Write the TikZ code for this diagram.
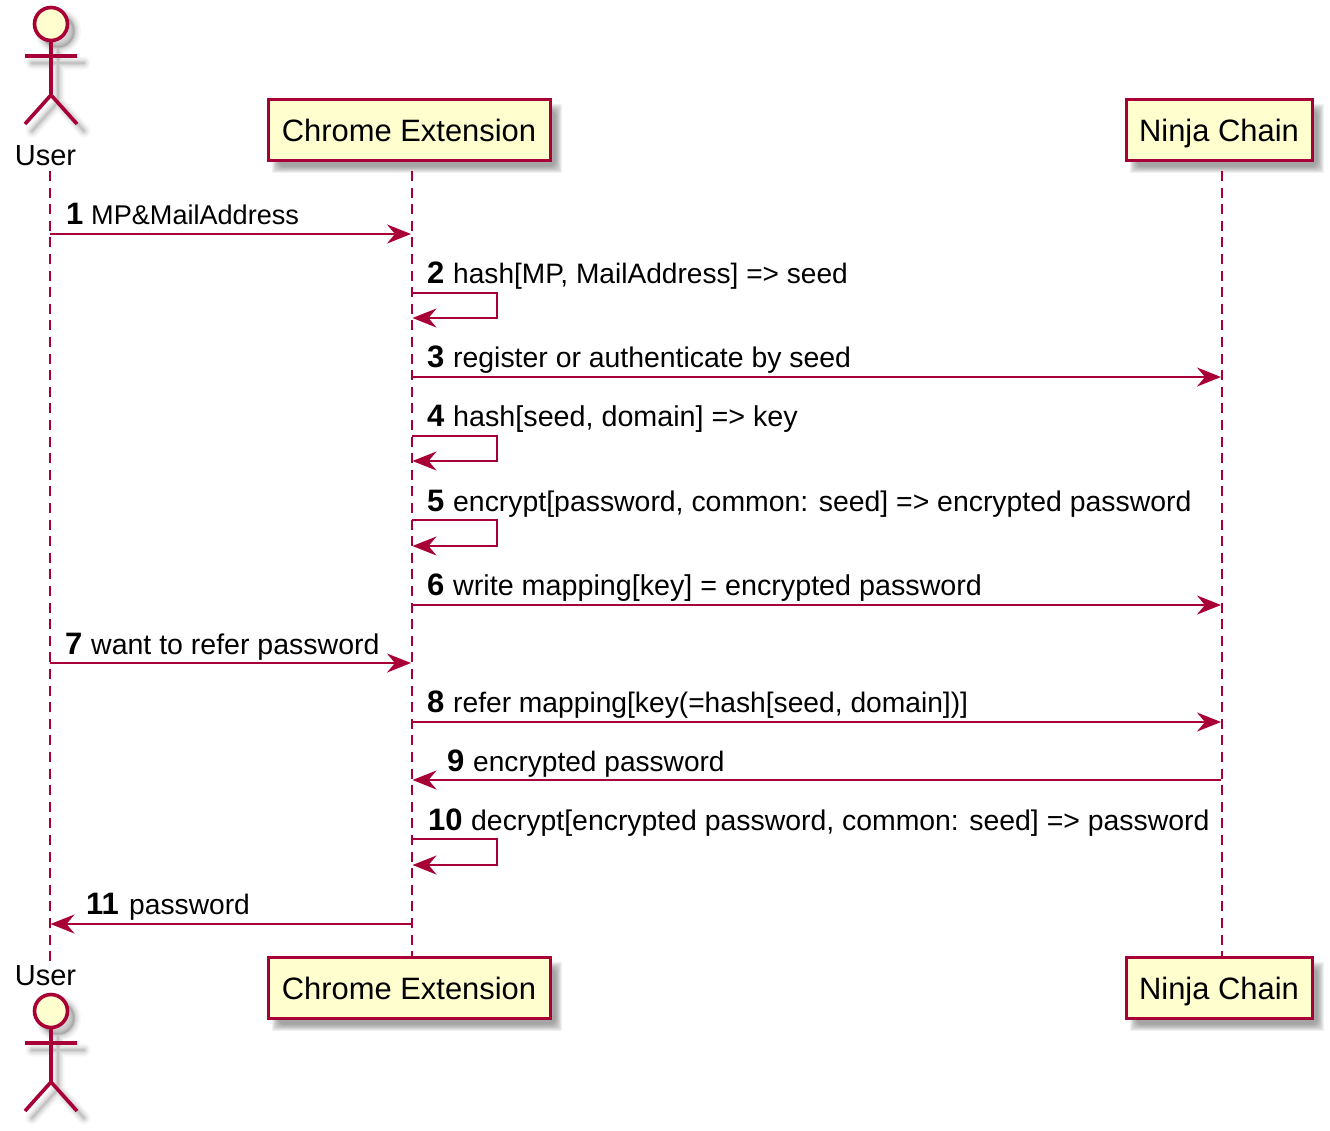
\documentclass[tikz,border=0pt]{standalone}
\usepackage{fontspec}
\setmainfont{Liberation Sans}
\usetikzlibrary{arrows.meta}
\definecolor{pu}{HTML}{A80036}
\definecolor{pf}{HTML}{FEFECE}
\newcommand{\boxfont}{\fontsize{30.9}{34}\selectfont}
\newcommand{\userfont}{\fontsize{29}{32}\selectfont}
\newcommand{\numfont}{\fontsize{31}{34}\selectfont\bfseries}
\newcommand{\softrect}[4]{%
  \foreach \k in {0,1,...,7}{
    \fill[black,opacity=0.05,rounded corners=\k pt]
      ({#1+8-4+\k*0.9},{#2+8-4+\k*0.9}) rectangle ({#3+8+4-\k*0.9},{#4+8+4-\k*0.9});
  }}
\newcommand{\softactor}[1]{%
  \begin{scope}[yshift={-(#1)*1pt}]
  \foreach \w/\o in {13/0.03,10/0.04,7/0.05,4/0.06,2/0.07}{
    \draw[black,opacity=\o,line width=\w pt,line cap=round,line join=round]
      (58,31) circle (16.5) (58,48) -- (58,102) (32,63) -- (84,63)
      (32,131) -- (58,102) -- (84,131);
    \fill[black,opacity=0.6*\o] (58,31) circle (16.5);
  }
  \end{scope}}
\newcommand{\actorfig}[1]{%
  \begin{scope}[yshift={-(#1)*1pt},draw=pu,line width=3.6pt]
    \draw[fill=pf] (51,24) circle (16.5);
    \draw (51,41) -- (51,95) (25,56) -- (77,56) (25,124) -- (51,95) -- (77,124);
  \end{scope}}
\tikzset{
  x=1pt,y=-1pt,
  part/.style={draw=pu,fill=pf,line width=3pt,minimum height=61pt,inner sep=0pt,text=black,font=\boxfont,text height=22pt,text depth=0pt},
  lifeline/.style={draw=pu,line width=2pt,dash pattern=on 10pt off 6.6pt},
  msgline/.style={draw=pu,line width=2pt,-{Stealth[length=24pt,width=19pt,inset=8pt,fill=pu]}},
  lbl/.style={anchor=base west,inner sep=0pt,text=black},
  num/.style={anchor=base west,inner sep=0pt,text=black,font=\numfont},
}
\newcommand{\msgpair}[4]{%
  \coordinate (#1a) at (#3,#2);\coordinate (#1b) at (#4,#2);
  \draw[msgline] (#1a) -- (#1b);}
\newcommand{\selfmsg}[3]{%
  \coordinate (#1a) at (412,#2);\coordinate (#1c) at (497,#2);
  \coordinate (#1d) at (497,#3);\coordinate (#1b) at (412.5,#3);
  \draw[msgline] (#1a) -- (#1c) -- (#1d) -- (#1b);}
\newcommand{\msgtext}[7]{% name nx tx baseline size num text
  \node[num] (#1n) at (#2,#4) {#6};
  \node[lbl,font=\fontsize{#5}{30}\selectfont] (#1t) at (#3,#4) {#7};}
\begin{document}
\begin{tikzpicture}
\useasboundingbox (0,0) rectangle (1330,1130);
\fill[white] (0,0) rectangle (1330,1130);
% shadows
\softrect{268}{100}{550}{161}
\softrect{1126}{100}{1312}{161}
\softrect{268}{958}{550}{1019}
\softrect{1126}{958}{1312}{1019}
\softactor{0}
\softactor{987}
% lifelines
\coordinate (uT) at (50,171);\coordinate (uB) at (50,962);
\coordinate (cT) at (411.5,171);\coordinate (cB) at (411.5,958);
\coordinate (nT) at (1221.5,171);\coordinate (nB) at (1221.5,958);
\draw[lifeline] (uT) -- (uB);
\draw[lifeline] (cT) -- (cB);
\draw[lifeline] (nT) -- (nB);
% participants
\node[part,minimum width=282pt] (ceTop) at (409,130) {Chrome Extension};
\node[part,minimum width=186pt] (ncTop) at (1219,130) {Ninja Chain};
\node[part,minimum width=282pt] (ceBot) at (409,988) {Chrome Extension};
\node[part,minimum width=186pt] (ncBot) at (1219,988) {Ninja Chain};
% actors
\actorfig{0}
\actorfig{987}
\node[anchor=base,inner sep=0pt,font=\userfont] (uTop) at (45.5,165) {User};
\node[anchor=base,inner sep=0pt,font=\userfont] (uBot) at (45.5,985) {User};
% messages
\msgpair{m1}{234}{50}{411}
\selfmsg{m2}{293}{318}
\msgpair{m3}{377}{412}{1221}
\selfmsg{m4}{436}{461}
\selfmsg{m5}{520}{546}
\msgpair{m6}{605}{412}{1221}
\msgpair{m7}{663}{50}{411}
\msgpair{m8}{722}{412}{1221}
\msgpair{m9}{780}{1221}{412.5}
\selfmsg{m10}{839}{865}
\msgpair{m11}{924}{411}{50.5}
\msgtext{l1}{66}{91}{224}{27.1}{1}{MP\&MailAddress}
\msgtext{l2}{427}{453}{283}{28.1}{2}{hash[MP, MailAddress] => seed}
\msgtext{l3}{427}{453}{367}{28.4}{3}{register or authenticate by seed}
\msgtext{l4}{427}{453}{426}{28.7}{4}{hash[seed, domain] => key}
\msgtext{l5}{427}{453}{511}{28.4}{5}{encrypt[password, common: seed] => encrypted password}
\msgtext{l6}{427}{453}{595}{28.7}{6}{write mapping[key] = encrypted password}
\msgtext{l7}{65}{91}{654}{28.5}{7}{want to refer password}
\msgtext{l8}{427}{453}{712}{28.2}{8}{refer mapping[key(=hash[seed, domain])]}
\msgtext{l9}{447}{473}{771}{28.1}{9}{encrypted password}
\msgtext{l10}{428}{471}{830}{28.4}{10}{decrypt[encrypted password, common: seed] => password}
\msgtext{l11}{86}{129}{914}{28.2}{11}{password}
\end{tikzpicture}
\end{document}
